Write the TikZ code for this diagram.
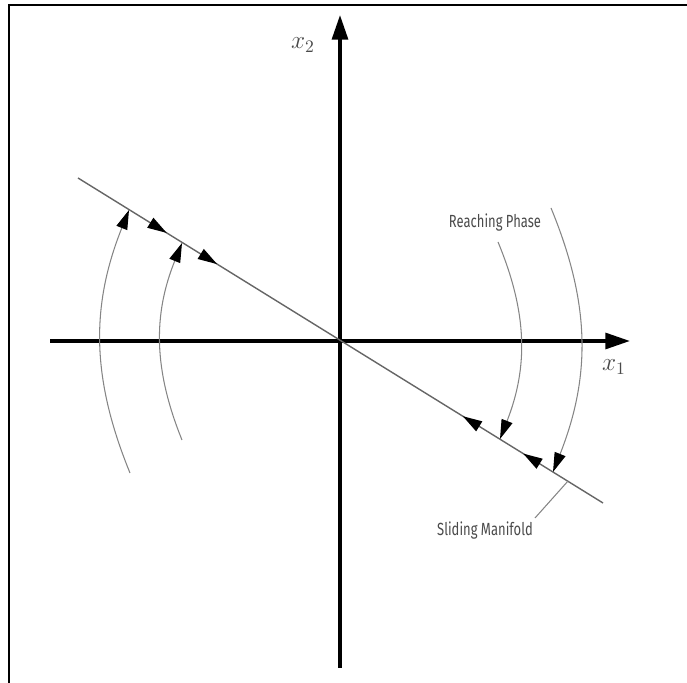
\documentclass[tikz,border=0pt]{standalone}
\usepackage{fontspec}
\usepackage{tikz}
\usetikzlibrary{arrows.meta,decorations.markings,calc}
\newfontfamily\narrowsans[FakeStretch=0.74]{Fira Sans}
\definecolor{axisline}{HTML}{000000}
\definecolor{manifold}{HTML}{666666}
\definecolor{phase}{HTML}{858585}
\definecolor{labeltext}{HTML}{4A4A4A}
\tikzset{
  axis/.style={line width=2pt, draw=axisline, -{Triangle[length=14pt,width=9pt]}},
  surface/.style={line width=0.8pt, draw=manifold},
  trajectory/.style={line width=0.6pt, draw=phase, -{Triangle[length=11pt,width=6.5pt,color=black]}, bend left=22},
  tag/.style={font=\narrowsans, text=labeltext, inner sep=1pt},
  mathtag/.style={font=\Large, text=labeltext, inner sep=1pt},
  frame/.style={line width=1.3pt}
}

\begin{document}
\begin{tikzpicture}[x=0.02cm, y=0.02cm]
        \useasboundingbox (0,0) rectangle (687,683);
        \draw[frame] (9,0) -- (9,678) -- (687,678);
        \coordinate (O) at (340,342);
        \coordinate (xl) at (50,342);
        \coordinate (xr) at (630,342);
        \coordinate (yb) at (340,15);
        \coordinate (yt) at (340,668);
        \coordinate (m1) at (78,505);
        \coordinate (m2) at (603,180);
        \draw[axis] (xl) -- (xr);
        \draw[axis] (yb) -- (yt);
        \node[mathtag] (x1) at (614,316) {$x_1$};
        \node[mathtag] (x2) at (303,638) {$x_2$};
        \draw[surface, postaction={decorate}, decoration={markings,
            mark=at position 0.169 with {\arrow{Triangle[length=11pt,width=6.5pt,color=black]}},
            mark=at position 0.265 with {\arrow{Triangle[length=11pt,width=6.5pt,color=black]}},
            mark=at position 0.733 with {\arrowreversed{Triangle[length=11pt,width=6.5pt,color=black]}},
            mark=at position 0.848 with {\arrowreversed{Triangle[length=11pt,width=6.5pt,color=black]}}}]
          (m1) -- (m2);
        \coordinate (lo1) at (130,210);
        \coordinate (lo2) at (129,473);
        \coordinate (li1) at (182,243);
        \coordinate (li2) at (182,440);
        \coordinate (ri1) at (498,441);
        \coordinate (ri2) at (500,244);
        \coordinate (ro1) at (551,475);
        \coordinate (ro2) at (553,211);
        \draw[trajectory] (lo1) to (lo2);
        \draw[trajectory] (li1) to (li2);
        \draw[trajectory] (ri1) to (ri2);
        \draw[trajectory] (ro1) to (ro2);
        \node[tag] (reach) at (495,460) {Reaching Phase};
        \node[tag] (slide) at (485,152) {Sliding Manifold};
        \coordinate (ls) at ($(m1)!0.933!(m2)$);
        \draw[line width=0.6pt, draw=phase] (ls) -- (535,165);
      \end{tikzpicture}
\end{document}
